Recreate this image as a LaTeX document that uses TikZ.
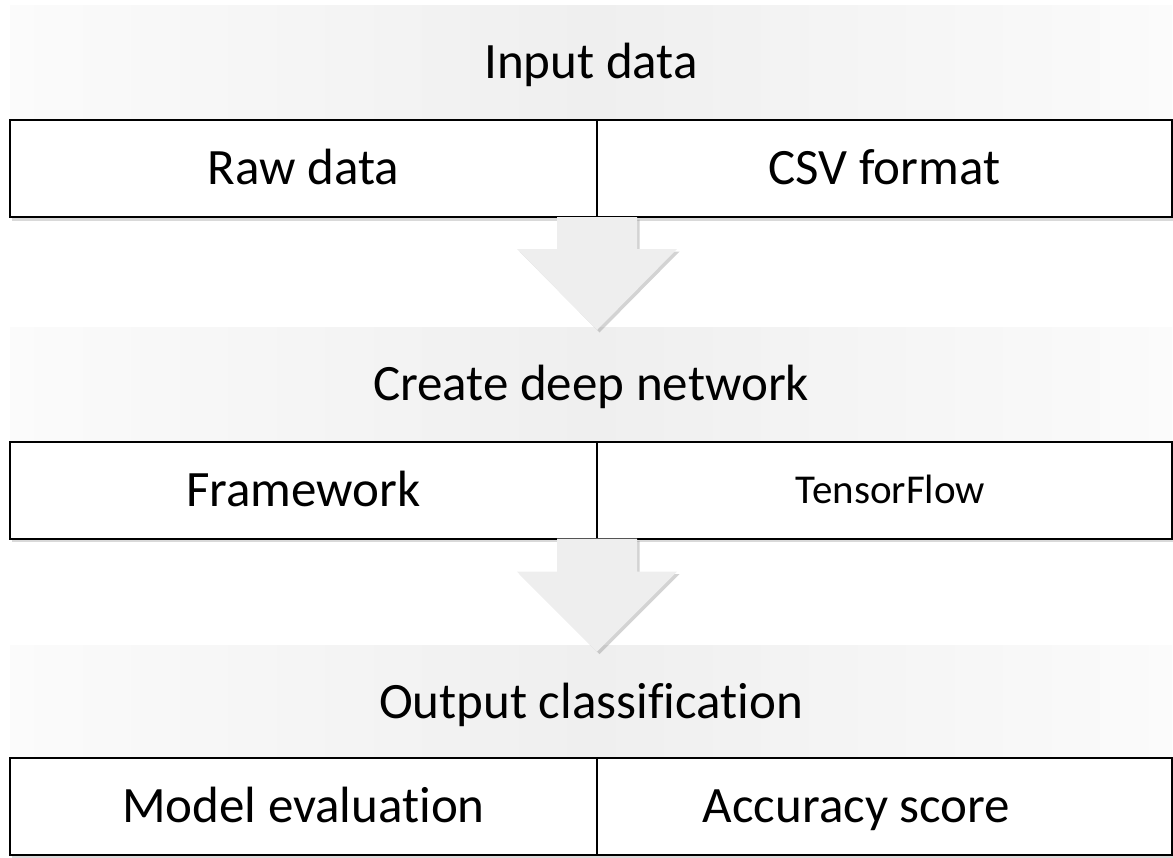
\documentclass[tikz,border=0pt]{standalone}
\usepackage{fontspec}
\setmainfont{Carlito}[Ligatures=NoCommon]
\usetikzlibrary{calc,shadows}
\definecolor{hdrmid}{HTML}{EFEFEF}
\definecolor{hdredge}{HTML}{FBFBFB}
\definecolor{arrowgray}{HTML}{EEEEEE}
\tikzset{
  header/.style={rectangle, inner sep=0pt, outer sep=0pt, minimum width=1162pt, minimum height=115pt,
    left color=hdredge, right color=hdredge, middle color=hdrmid},
  cellbox/.style={rectangle, inner sep=0pt, outer sep=0pt, minimum height=97pt, draw=black, line width=2pt,
    fill=white, drop shadow={shadow xshift=1.5pt, shadow yshift=-3.5pt, opacity=0.3}},
  leftcell/.style={cellbox, minimum width=587pt},
  rightcell/.style={cellbox, minimum width=575pt},
  label/.style={inner sep=0pt, outer sep=0pt, text height=32.8pt, text depth=0pt,
    font=\fontsize{51}{60}\selectfont},
  smalllabel/.style={label, text height=26.4pt, font=\fontsize{41}{50}\selectfont},
  blockarrow/.style={fill=arrowgray, draw=none, drop shadow={shadow xshift=2.5pt, shadow yshift=-2.5pt, opacity=0.35}}
}
\begin{document}
\begin{tikzpicture}[x=1pt,y=-1pt]
\useasboundingbox (0,0) rectangle (1173,857);
% row 1
\node[header] (h1) at (591,62.5) {};
\node[leftcell] (a1) at (303.5,168.5) {};
\node[rightcell] (b1) at (884.5,168.5) {};
% row 2
\node[header] (h2) at (591,384.5) {};
\node[leftcell] (a2) at (303.5,490) {};
\node[rightcell] (b2) at (884.5,490) {};
% row 3
\node[header] (h3) at (591,702.5) {};
\node[leftcell] (a3) at (303.5,806.5) {};
\node[rightcell] (b3) at (884.5,806.5) {};
% texts
\node[label] (th1) at (h1) {Input data};
\node[label] (ta1) at (a1) {Raw data};
\node[label] (tb1) at (b1) {CSV format};
\node[label] (th2) at (h2) {Create deep network};
\node[label] (ta2) at (a2) {Framework};
\node[smalllabel] (tb2) at ([xshift=6pt]b2.center) {TensorFlow};
\node[label] (th3) at (h3) {Output classification};
\node[label] (ta3) at (a3) {Model evaluation};
\node[label] (tb3) at ([xshift=-28pt]b3.center) {Accuracy score};
% arrows
\coordinate (d1) at (a1.south east);
\coordinate (d2) at (a2.south east);
\fill[blockarrow] ($(d1)+(-40,0)$) -- ($(d1)+(40,0)$) -- ($(d1)+(40,32)$) -- ($(d1)+(80,32)$)
  -- ($(d1)+(0,113)$) -- ($(d1)+(-80,32)$) -- ($(d1)+(-40,32)$) -- cycle;
\fill[blockarrow] ($(d2)+(-40,0)$) -- ($(d2)+(40,0)$) -- ($(d2)+(40,33)$) -- ($(d2)+(80,33)$)
  -- ($(d2)+(0,113)$) -- ($(d2)+(-80,33)$) -- ($(d2)+(-40,33)$) -- cycle;
\end{tikzpicture}
\end{document}
